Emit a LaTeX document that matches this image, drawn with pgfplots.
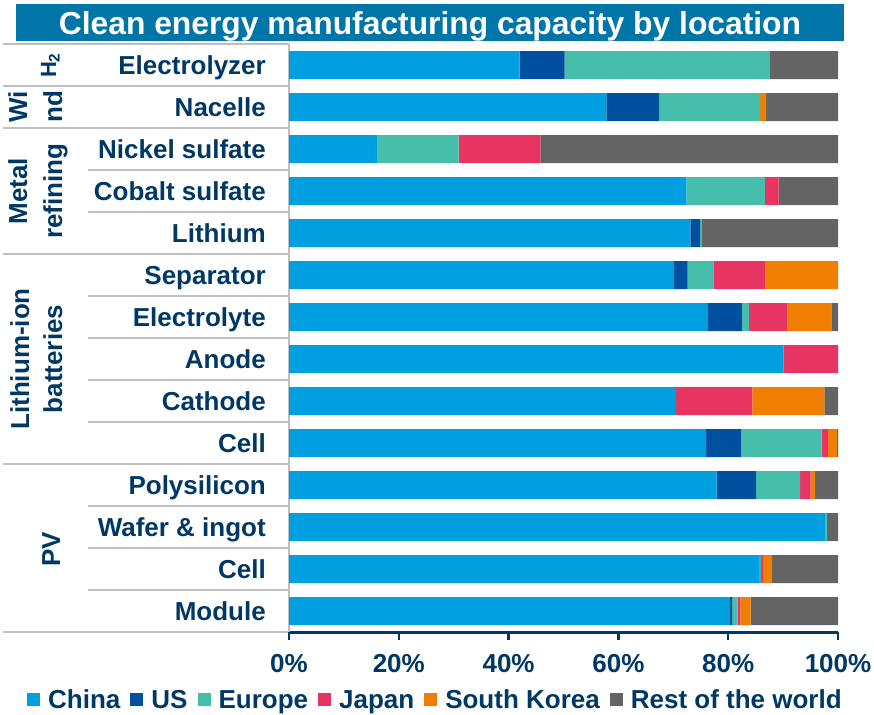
\documentclass[border=0pt]{standalone}
\usepackage{fontspec}
\setmainfont{Liberation Sans}
\usepackage{pgfplots}
\pgfplotsset{compat=1.18}
\definecolor{china}{HTML}{009FE0}
\definecolor{usc}{HTML}{0050A0}
\definecolor{europe}{HTML}{45BFAC}
\definecolor{japan}{HTML}{E83462}
\definecolor{korea}{HTML}{F07E00}
\definecolor{rest}{HTML}{646464}
\definecolor{navy}{HTML}{003865}
\definecolor{titlebg}{HTML}{0075A8}
\definecolor{rulec}{HTML}{BFBFBF}
\newcommand{\bigf}{\fontsize{26}{31}\selectfont\bfseries}
\begin{document}
\begin{tikzpicture}
\path[use as bounding box] (0,0) rectangle (874pt,-714pt);
\fill[titlebg] (16pt,-4pt) rectangle (844pt,-41pt);
\node[anchor=base, text=white, font=\fontsize{31.8}{36}\selectfont\bfseries, inner sep=0pt] at (430pt,-35pt) {Clean energy manufacturing capacity by location};
\foreach \y in {44,86,128,254,464,632} \draw[rulec, line width=1.5pt] ({3pt},{-\y*1pt}) -- ({289pt},{-\y*1pt});
\foreach \y in {170,212,296,338,380,422,506,548,590} \draw[rulec, line width=1.5pt] ({88pt},{-\y*1pt}) -- ({289pt},{-\y*1pt});
\begin{axis}[
  at={(289pt,-632pt)}, anchor=south west,
  scale only axis, width=549pt, height=588pt,
  xbar stacked, bar width=28pt,
  xmin=0, xmax=100, ymin=-0.5, ymax=13.5, y dir=reverse,
  axis x line*=bottom, axis y line*=left,
  x axis line style={navy, line width=3pt},
  y axis line style={rulec, line width=1.5pt},
  xtick={0,20,...,100},
  xticklabel={\pgfmathprintnumber{\tick}\%},
  /pgf/number format/assume math mode=true,
  tick align=outside, major tick length=8pt,
  xtick style={navy, line width=2.5pt},
  xticklabel style={font=\bigf, text=navy, inner sep=0pt, text height=18.6pt, text depth=0pt, anchor=north, yshift=-14pt},
  ytick={0,...,13},
  yticklabels={Electrolyzer, Nacelle, Nickel sulfate, Cobalt sulfate, Lithium, Separator, Electrolyte, Anode, Cathode, Cell\hspace{8pt}, Polysilicon, {Wafer \& ingot}, Cell, Module},
  ytick style={draw=none},
  yticklabel style={font=\bigf, text=navy, inner sep=0pt, text height=18.6pt, text depth=0pt, anchor=east, xshift=-15pt},
  legend style={at={(-0.4772,-0.1156)}, anchor=west, draw=none, fill=none, inner sep=0pt,
    legend columns=-1, font=\bigf, text=navy, nodes={inner sep=0pt},
    /tikz/every odd column/.style={column sep=8pt},
    /tikz/every even column/.style={column sep=10pt}},
  legend cell align=left,
]
\addplot[fill=china, draw=none, legend image code/.code={\fill[china] (0pt,-6.5pt) rectangle (13pt,6.5pt);}] coordinates {
(42.0,0) (57.8,1) (16.0,2) (72.4,3) (73.1,4) (70.1,5) (76.3,6) (90.1,7) (70.5,8) (76.0,9) (77.9,10) (97.6,11) (85.7,12) (80.3,13)};
\addplot[fill=usc, draw=none, legend image code/.code={\fill[usc] (0pt,-6.5pt) rectangle (13pt,6.5pt);}] coordinates {
(8.2,0) (9.6,1) (0,2) (0,3) (1.8,4) (2.5,5) (6.2,6) (0,7) (0,8) (6.4,9) (7.2,10) (0,11) (0.1,12) (0.4,13)};
\addplot[fill=europe, draw=none, legend image code/.code={\fill[europe] (0pt,-6.5pt) rectangle (13pt,6.5pt);}] coordinates {
(37.4,0) (18.4,1) (14.9,2) (14.3,3) (0.2,4) (4.7,5) (1.3,6) (0,7) (0,8) (14.6,9) (8.0,10) (0.4,11) (0.2,12) (1.0,13)};
\addplot[fill=japan, draw=none, legend image code/.code={\fill[japan] (0pt,-6.5pt) rectangle (13pt,6.5pt);}] coordinates {
(0,0) (0,1) (14.9,2) (2.5,3) (0,4) (9.5,5) (6.9,6) (9.9,7) (13.9,8) (1.2,9) (1.9,10) (0,11) (0.3,12) (0.5,13)};
\addplot[fill=korea, draw=none, legend image code/.code={\fill[korea] (0pt,-6.5pt) rectangle (13pt,6.5pt);}] coordinates {
(0,0) (1.1,1) (0,2) (0,3) (0,4) (13.2,5) (8.1,6) (0,7) (13.1,8) (1.6,9) (0.8,10) (0,11) (1.7,12) (1.9,13)};
\addplot[fill=rest, draw=none, legend image code/.code={\fill[rest] (0pt,-6.5pt) rectangle (13pt,6.5pt);}] coordinates {
(12.4,0) (13.1,1) (54.2,2) (10.8,3) (24.9,4) (0,5) (1.2,6) (0,7) (2.5,8) (0.2,9) (4.2,10) (2.0,11) (12.0,12) (15.9,13)};
\legend{China, US, Europe, Japan, South Korea, Rest of the world}
\end{axis}
\begin{scope}[every node/.style={rotate=90, anchor=base, text=navy, font=\bigf, inner sep=0pt}]
\node[font=\fontsize{22}{26}\selectfont\bfseries] at (56pt,-65.5pt) {H\textsubscript{2}};
\node at (27pt,-107pt) {Wi};
\node at (62pt,-107pt) {nd};
\node at (27pt,-191pt) {Metal};
\node at (62pt,-191pt) {refining};
\node at (29pt,-359pt) {Lithium-ion};
\node at (62pt,-359pt) {batteries};
\node at (60pt,-549pt) {PV};
\end{scope}
\end{tikzpicture}
\end{document}
